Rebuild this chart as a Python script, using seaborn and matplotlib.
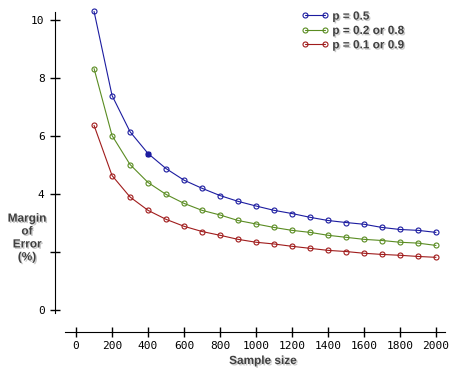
import numpy as np
import pandas as pd
import matplotlib
matplotlib.use("Agg")
import matplotlib.pyplot as plt
import matplotlib.patheffects as pe
import seaborn as sns

# Data
SAMPLE_SIZE = [100, 200, 300, 400, 500, 600, 700, 800, 900, 1000,
               1100, 1200, 1300, 1400, 1500, 1600, 1700, 1800, 1900, 2000]
MOE_P50 = [10.30, 7.40, 6.15, 5.40, 4.88, 4.48, 4.20, 3.95, 3.75, 3.59,
           3.44, 3.33, 3.20, 3.09, 3.02, 2.96, 2.85, 2.78, 2.75, 2.68]
MOE_P20 = [8.33, 6.02, 5.02, 4.40, 3.99, 3.68, 3.44, 3.28, 3.09, 2.97,
           2.85, 2.75, 2.68, 2.58, 2.51, 2.44, 2.40, 2.34, 2.31, 2.23]
MOE_P10 = [6.37, 4.64, 3.90, 3.44, 3.13, 2.89, 2.71, 2.58, 2.44, 2.34,
           2.28, 2.20, 2.13, 2.06, 2.02, 1.96, 1.92, 1.89, 1.85, 1.82]
LABELS = ["p = 0.5", "p = 0.2 or 0.8", "p = 0.1 or 0.9"]
COLORS = ["#1c1ca0", "#5a8c22", "#a01c1c"]
HIGHLIGHT_N = 400
X_TICKS = list(range(0, 2001, 200))
Y_TICKS = [0, 2, 4, 6, 8, 10]
Y_TICK_LABELS = ["0", "", "4", "6", "8", "10"]

sns.set_style("white")
plt.rcParams["font.family"] = ["Liberation Sans", "DejaVu Sans"]

fig = plt.figure(figsize=(4.6, 3.77), dpi=100)
ax = fig.add_axes([55 / 460, 1 - 313 / 377, 390 / 460, 301 / 377])

series = [MOE_P50, MOE_P20, MOE_P10]
for vals, lab, col in zip(series, LABELS, COLORS):
    df = pd.DataFrame({"n": SAMPLE_SIZE, "moe": vals})
    sns.lineplot(data=df, x="n", y="moe", ax=ax, color=col, lw=0.8,
                 marker="o", markersize=3.6, markerfacecolor="none",
                 markeredgecolor=col, markeredgewidth=0.8, label=lab,
                 clip_on=False)

# filled point on the top curve
i = SAMPLE_SIZE.index(HIGHLIGHT_N)
ax.plot([SAMPLE_SIZE[i]], [MOE_P50[i]], "s", color=COLORS[0], ms=3, clip_on=False)

ax.set_xlim(-117, 2050)
ax.set_ylim(-0.1, 10.28)
ax.set_xticks(X_TICKS)
ax.set_yticks(Y_TICKS)
ax.set_yticklabels(Y_TICK_LABELS)
ax.set_xlabel("")
ax.set_ylabel("")

for s in ["top", "right"]:
    ax.spines[s].set_visible(False)
ax.spines["left"].set_color("black")
ax.spines["bottom"].set_color("black")
ax.spines["bottom"].set_position(("outward", 14))
ax.spines["bottom"].set_bounds(-61, 2050)
ax.tick_params(axis="both", direction="inout", length=7, width=1, color="black",
               labelsize=8, labelcolor="black", left=True, bottom=True)
ax.tick_params(axis="x", pad=3)
ax.tick_params(axis="y", pad=4)
for t in ax.get_xticklabels() + ax.get_yticklabels():
    t.set_family("DejaVu Sans Mono")

shadow = [pe.SimplePatchShadow(offset=(1, -1), shadow_rgbFace="#c8c8c8", alpha=1), pe.Normal()]
fig.text(263 / 460, 1 - 361 / 377, "Sample size", ha="center", va="center",
         fontsize=8.5, fontweight="bold", color="#404040", path_effects=shadow)
fig.text(27 / 460, 1 - 238 / 377, "Margin\nof\nError\n(%)", ha="center", va="center",
         fontsize=8.5, fontweight="bold", color="#404040", linespacing=1.1,
         path_effects=shadow)

leg = ax.legend(loc="upper left", bbox_to_anchor=(236 / 390, 1.04), frameon=False,
                numpoints=2, handlelength=2.3, handletextpad=0.3, labelspacing=0.2,
                prop={"weight": "bold", "size": 8.5})
for t in leg.get_texts():
    t.set_color("#404040")
    t.set_path_effects(shadow)

fig.savefig("out.png", dpi=100)
